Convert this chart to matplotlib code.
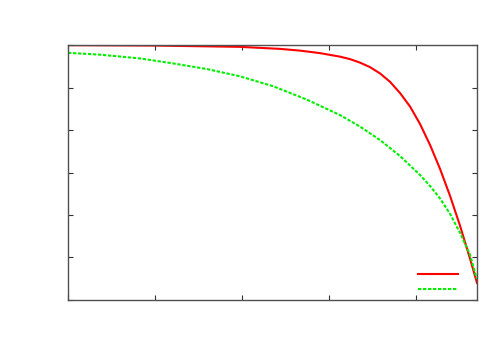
import matplotlib
matplotlib.use("Agg")
import matplotlib.pyplot as plt

# values (x in tick units, y in tick units)
red_x = [0.0, 1.0, 1.977, 2.437, 2.667, 2.897, 3.126, 3.241, 3.356, 3.471, 3.586, 3.701,
         3.816, 3.931, 4.046, 4.161, 4.276, 4.391, 4.506, 4.621, 4.70]
red_y = [6.0, 5.99, 5.96, 5.912, 5.871, 5.812, 5.729, 5.671, 5.588, 5.482, 5.334, 5.136,
         4.871, 4.553, 4.141, 3.647, 3.082, 2.447, 1.741, 0.965, 0.40]

green_x = [0.0, 0.368, 0.828, 1.210, 1.594, 1.977, 2.360, 2.744, 3.126, 3.356, 3.586,
           3.816, 4.046, 4.161, 4.276, 4.391, 4.506, 4.621, 4.698]
green_y = [5.819, 5.776, 5.687, 5.569, 5.438, 5.266, 5.031, 4.718, 4.353, 4.082, 3.765,
           3.388, 2.941, 2.682, 2.388, 2.024, 1.576, 1.059, 0.494]

x_ticks = [0, 1, 2, 3, 4]
y_ticks = [0, 1, 2, 3, 4, 5, 6]

fig = plt.figure(figsize=(5, 3.5), dpi=100)
ax = fig.add_axes([0.136, 0.143, 0.818, 0.728])

ax.plot(red_x, red_y, color='#ff0000', lw=1.5, label=' ')
ax.plot(green_x, green_y, color='#00ee00', lw=1.5, dashes=(1.6, 0.8), label=' ')

ax.set_xlim(0, 4.70)
ax.set_ylim(0, 6)
ax.set_xticks(x_ticks)
ax.set_yticks(y_ticks)
ax.set_xticklabels([])
ax.set_yticklabels([])
ax.tick_params(direction='in', length=3.5, width=0.8, top=True, right=True, color='#333333')
for s in ax.spines.values():
    s.set_color('#505050')
    s.set_linewidth(1.0)

ax.legend(loc='upper left', frameon=False, handlelength=3.6, handletextpad=0.2,
          labelspacing=0.47, fontsize=8, borderpad=0, borderaxespad=0,
          bbox_to_anchor=(0.856, 0.119))

fig.savefig('out.png', dpi=100)
